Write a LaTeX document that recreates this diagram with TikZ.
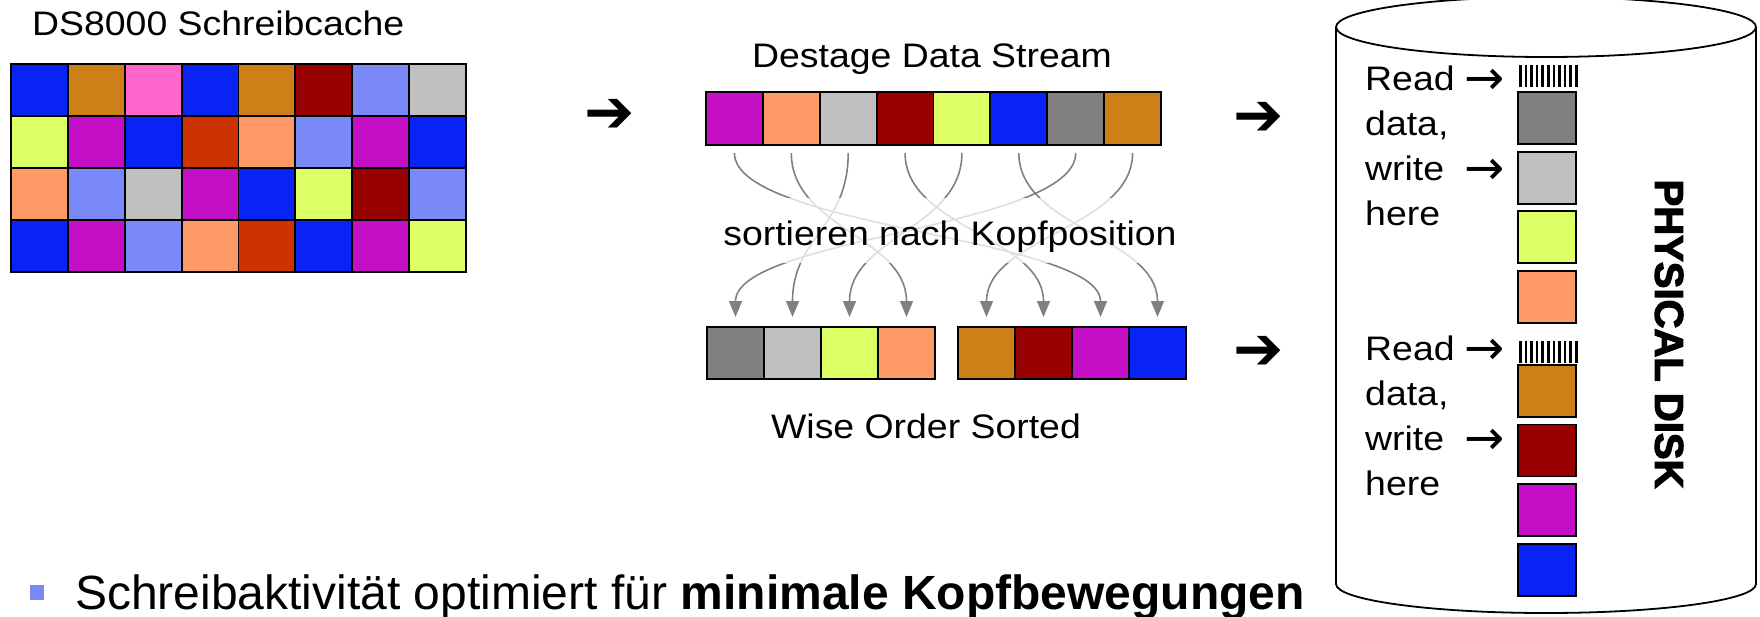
\documentclass[tikz,border=0pt]{standalone}
\usepackage{fontspec}
\setmainfont{Liberation Sans}
\newfontfamily\lab[FakeStretch=1.1]{Liberation Sans}
\newfontfamily\heavy[FakeBold=3]{Liberation Sans Bold}
\newfontfamily\sym{DejaVu Sans}
\newfontfamily\symbold{DejaVu Sans Bold}
\usetikzlibrary{arrows.meta}

\definecolor{cBlue}{HTML}{0A23F5}
\definecolor{cOchre}{HTML}{CD8018}
\definecolor{cPink}{HTML}{FF66CC}
\definecolor{cMaroon}{HTML}{990000}
\definecolor{cPeri}{HTML}{7B88F8}
\definecolor{cSilver}{HTML}{C0C0C0}
\definecolor{cLime}{HTML}{DDFF66}
\definecolor{cPurple}{HTML}{C40FC6}
\definecolor{cRust}{HTML}{CC3300}
\definecolor{cSalmon}{HTML}{FF9966}
\definecolor{cGray}{HTML}{808080}
\definecolor{flowgray}{HTML}{808080}

\tikzset{
  cell/.style={draw=black, line width=1.8pt, minimum width=56.9pt,
    minimum height=52pt, inner sep=0pt, outer sep=0pt},
  label/.style={inner sep=0pt, font=\lab\fontsize{34}{40}\selectfont},
  bigarrow/.style={inner sep=0pt, font=\symbold\fontsize{60}{60}\selectfont},
  flow/.style={draw=flowgray, line width=1.6pt,
    -{Triangle[length=16pt, width=13pt]}},
  drum/.style={draw=black, line width=1.8pt},
}
\newcommand{\headarrow}{\raisebox{-4pt}{\sym\fontsize{48}{45}\selectfont →}}

\begin{document}
\begin{tikzpicture}[x=1pt, y=-1pt]
\useasboundingbox (0,0) rectangle (1760,616);

% --- write cache -------------------------------------------------------
\node[label, anchor=base west] (cachetitle) at (32,35) {DS8000 Schreibcache};
\foreach \row/\cols in {1/{cBlue,cOchre,cPink,cBlue,cOchre,cMaroon,cPeri,cSilver},
                        2/{cLime,cPurple,cBlue,cRust,cSalmon,cPeri,cPurple,cBlue},
                        3/{cSalmon,cPeri,cSilver,cPurple,cBlue,cLime,cMaroon,cPeri},
                        4/{cBlue,cPurple,cPeri,cSalmon,cRust,cBlue,cPurple,cLime}}{
  \foreach \c [count=\i] in \cols {
    \node[cell, fill=\c] (g\row\i) at ({11+56.875*(\i-0.5)}, {64+52*(\row-0.5)}) {};
  }
}

\node[bigarrow] (arr1) at (610,116) {➔};

% --- destage stream ----------------------------------------------------
\node[label, anchor=base] (streamtitle) at (932,67) {Destage Data Stream};
\foreach \c [count=\i] in {cPurple,cSalmon,cSilver,cMaroon,cLime,cBlue,cGray,cOchre}{
  \node[cell, fill=\c, minimum height=53pt] (s\i) at ({706+56.875*(\i-0.5)}, 118.5) {};
}

% --- sorted runs -------------------------------------------------------
\foreach \c [count=\i] in {cGray,cSilver,cLime,cSalmon}{
  \node[cell, fill=\c] (t\i) at ({707+57*(\i-0.5)}, 353) {};
}
\foreach \c [count=\i from 5] in {cOchre,cMaroon,cPurple,cBlue}{
  \node[cell, fill=\c] (t\i) at ({958+57*(\i-4.5)}, 353) {};
}

% reordering connectors
\foreach \a/\b in {7/1, 3/2, 5/3, 2/4, 8/5, 4/6, 1/7, 6/8}{
  \draw[flow] ([yshift=-8pt]s\a.south) .. controls +(0,75) and +(0,-80) .. ([yshift=10pt]t\b.north);
}
\node[label, anchor=base, fill=white, fill opacity=0.75, text opacity=1,
      text height=47pt, text depth=18pt, minimum width=493pt] (sortlabel)
      at (950,245) {sortieren nach Kopfposition};

\node[label, anchor=base] (sortedtitle) at (926,438) {Wise Order Sorted};

\node[bigarrow] (arr2) at (1259,119) {➔};
\node[bigarrow] (arr3) at (1259,353) {➔};

% --- physical disk -----------------------------------------------------
\draw[drum] (1336,27) -- (1336,584)
  arc[start angle=180, end angle=360, x radius=210pt, y radius=29pt] -- (1756,27);
\draw[drum] (1546,27) ellipse [x radius=210pt, y radius=30pt];

\foreach \y in {65,341}{
  \foreach \k in {0,...,10}{
    \fill (1519+5.6*\k, \y) rectangle ++(2.6, 22);
  }
}
\foreach \c/\y [count=\i] in {cGray/118, cSilver/178, cLime/237, cSalmon/297,
                              cOchre/391, cMaroon/450.5, cPurple/510, cBlue/570}{
  \node[cell, fill=\c, minimum width=58pt] (d\i) at (1547,\y) {};
}

\foreach \y [count=\i] in {90,360}{
  \node[label, anchor=base west] (note\i) at (1365,\y) {\fontsize{34}{45}\selectfont
    \begin{tabular}[t]{@{}l@{\hspace{10pt}}l@{}}
      Read & \headarrow \\
      data, & \\
      write & \headarrow \\
      here & \\
    \end{tabular}};
}

\node[rotate=-90, inner sep=0pt, font=\heavy\fontsize{40}{40}\selectfont]
  (disklabel) at (1669,334) {PHYSICAL DISK};

% --- bullet line -------------------------------------------------------
\fill[cPeri] (30,585) rectangle (44,600);
\node[anchor=base west, inner sep=0pt, font=\fontsize{48}{56}\selectfont]
  (bullet) at (75,609) {Schreibaktivität optimiert für \textbf{minimale Kopfbewegungen}};
\end{tikzpicture}
\end{document}
